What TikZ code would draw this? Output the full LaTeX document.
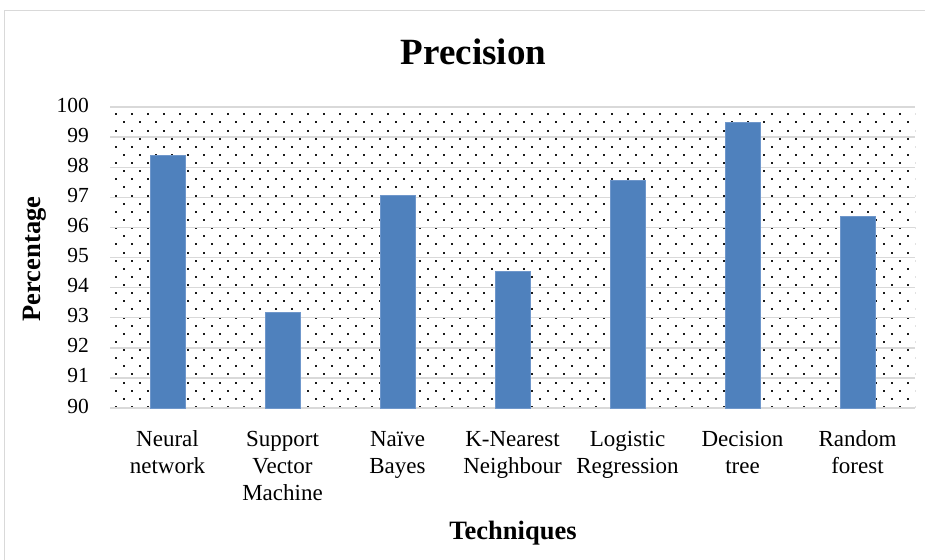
\documentclass[tikz,border=0pt]{standalone}
\usepackage{fontspec}
\setmainfont{Liberation Serif}
\definecolor{barblue}{HTML}{4F81BD}
\definecolor{baredge}{HTML}{6F97CB}
\definecolor{gridgray}{HTML}{D9D9D9}
\definecolor{framegray}{HTML}{D9D9D9}
\definecolor{dotc}{HTML}{1A1A1A}
\begin{document}
\begin{tikzpicture}[x=1pt,y=-1pt,
  catlbl/.style={font=\fontsize{23}{27}\selectfont, align=center, inner sep=0pt, anchor=base},
  ticklbl/.style={font=\fontsize{21.5}{25}\selectfont, anchor=east, inner sep=0pt},
  axtitle/.style={font=\fontsize{26.5}{30}\selectfont\bfseries, inner sep=0pt},
  barsty/.style={fill=barblue, draw=baredge, line width=0.8pt},
  gridsty/.style={draw=gridgray, line width=1.4pt}]
\useasboundingbox (0,0) rectangle (925,559);
\fill[white] (0,0) rectangle (925,559);
\draw[framegray, line width=1.2pt] (4.5,10.5) rectangle (940,575);
% dotted plot area
\begin{scope}
  \clip (110,107) rectangle (915,408);
  \foreach \r in {0,...,36} {
    \foreach \c in {0,...,50} {
      \fill[dotc] ({116+16*\c+8*mod(\r,2)-1},{114.3+8.13*\r-1}) rectangle +(2,2);
    }
  }
\end{scope}
% gridlines and tick labels
\foreach \v in {90,...,100} {
  \draw[gridsty] (110,{408-(\v-90)*30.1}) -- (915,{408-(\v-90)*30.1});
  \node[ticklbl] (t\v) at (89,{406-(\v-90)*30.1}) {\v};
}
% bars
\foreach \i/\val in {0/98.38,1/93.19,2/97.05,3/94.55,4/97.57,5/99.48,6/96.36} {
  \fill[barsty] ({167.5+115*\i-17.5},408) rectangle ({167.5+115*\i+17.5},{408-(\val-90)*30.1});
}
% category labels (base anchor = baseline of last line)
\node[catlbl] (c0) at (167.5,473.5) {Neural\\network};
\node[catlbl] (c1) at (282.5,500.5) {Support\\Vector\\Machine};
\node[catlbl] (c2) at (397.5,473.5) {Naïve\\Bayes};
\node[catlbl] (c3) at (512.5,473.5) {K-Nearest\\Neighbour};
\node[catlbl] (c4) at (627.5,473.5) {Logistic\\Regression};
\node[catlbl] (c5) at (742.5,473.5) {Decision\\tree};
\node[catlbl] (c6) at (857.5,473.5) {Random\\forest};
% titles
\node[font=\fontsize{37}{41}\selectfont\bfseries, inner sep=0pt, anchor=base] (title) at (473.5,65) {Precision};
\node[axtitle, anchor=base] (xt) at (513,539) {Techniques};
\node[axtitle, rotate=90, anchor=base] (yt) at (40,259) {Percentage};
\end{tikzpicture}
\end{document}
